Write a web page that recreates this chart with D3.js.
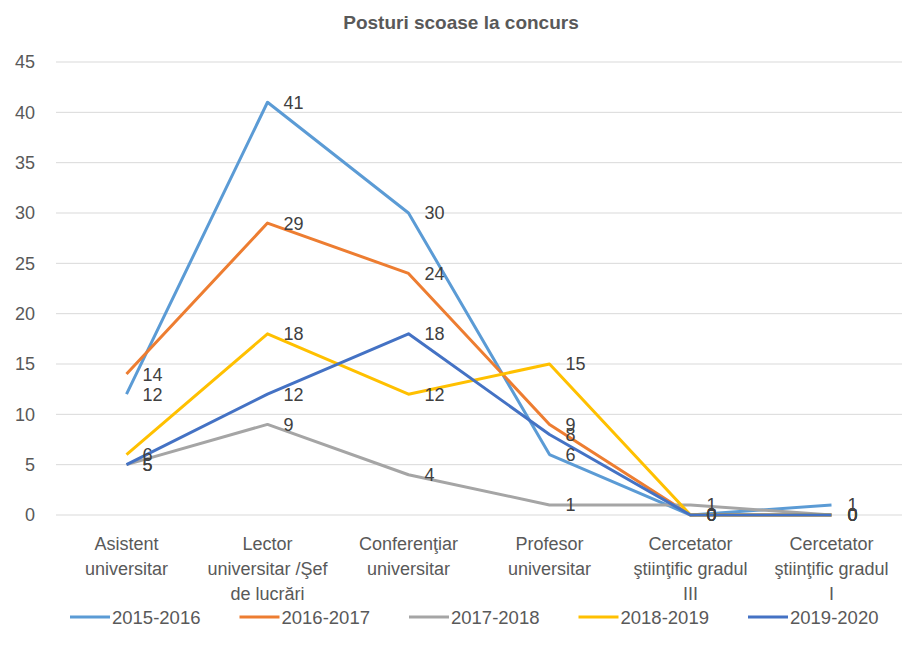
<!DOCTYPE html>
<html>
<head>
<meta charset="utf-8">
<script src="https://cdn.jsdelivr.net/npm/d3@7"></script>
<style>
  body { margin: 0; background: #fff; }
  svg { font-family: "Liberation Sans", Arial, sans-serif; }
</style>
</head>
<body>
<div id="chart"></div>
<script>
// categories (x axis)
var categories = [
    "Asistent universitar",
    "Lector universitar /Şef de lucrări",
    "Conferenţiar universitar",
    "Profesor universitar",
    "Cercetator ştiinţific gradul III",
    "Cercetator ştiinţific gradul I"
];
// label lines as they are wrapped in the picture
var categoryLines = [
    ["Asistent", "universitar"],
    ["Lector", "universitar /Şef", "de lucrări"],
    ["Conferenţiar", "universitar"],
    ["Profesor", "universitar"],
    ["Cercetator", "ştiinţific gradul", "III"],
    ["Cercetator", "ştiinţific gradul", "I"]
];

var seriesNames = ["2015-2016", "2016-2017", "2017-2018", "2018-2019", "2019-2020"];
var values2015 = [12, 41, 30, 6, 0, 1];
var values2016 = [14, 29, 24, 9, 0, 0];
var values2017 = [5, 9, 4, 1, 1, 0];
var values2018 = [6, 18, 12, 15, 0, 0];
var values2019 = [5, 12, 18, 8, 0, 0];
var yTicks = [0, 5, 10, 15, 20, 25, 30, 35, 40, 45];

var colors = ["#5B9BD5", "#ED7D31", "#A5A5A5", "#FFC000", "#4472C4"];
var allValues = [values2015, values2016, values2017, values2018, values2019];

var width = 902, height = 652;
var margin = { top: 62, right: 0, bottom: 137, left: 56 };

var svg = d3.select("#chart").append("svg")
    .attr("width", width)
    .attr("height", height);

// title
svg.append("text")
    .attr("x", 461)
    .attr("y", 29)
    .attr("text-anchor", "middle")
    .attr("fill", "#595959")
    .attr("font-weight", "bold")
    .attr("font-size", "19px")
    .text("Posturi scoase la concurs");

var x = d3.scaleBand()
    .domain(categories)
    .range([margin.left, width - margin.right]);

var y = d3.scaleLinear()
    .domain([0, 45])
    .range([height - margin.bottom, margin.top]);

// gridlines
svg.append("g")
    .selectAll("line")
    .data(yTicks)
    .enter().append("line")
    .attr("x1", margin.left)
    .attr("x2", width - margin.right)
    .attr("y1", function (d) { return y(d); })
    .attr("y2", function (d) { return y(d); })
    .attr("stroke", "#D9D9D9")
    .attr("stroke-width", 1);

// y axis labels
var yAxis = svg.append("g")
    .attr("transform", "translate(" + (margin.left - 21) + ",0)")
    .call(d3.axisLeft(y).tickValues(yTicks).tickSize(0).tickPadding(0));
yAxis.select(".domain").remove();
yAxis.selectAll("text")
    .attr("fill", "#595959")
    .attr("font-size", "18px")
    .attr("font-family", "\"Liberation Sans\", Arial, sans-serif");

// x axis (labels drawn below as wrapped lines)
var xAxis = svg.append("g")
    .attr("transform", "translate(0," + (height - margin.bottom) + ")")
    .call(d3.axisBottom(x).tickSize(0).tickFormat(""));
xAxis.select(".domain").remove();

svg.append("g")
    .selectAll("text")
    .data(categories)
    .enter().append("text")
    .attr("text-anchor", "middle")
    .attr("fill", "#595959")
    .attr("font-size", "18px")
    .each(function (d, i) {
        var t = d3.select(this);
        categoryLines[i].forEach(function (line, k) {
            t.append("tspan")
                .attr("x", x(d) + x.bandwidth() / 2)
                .attr("y", 550 + k * 25)
                .text(line);
        });
    });

// lines
var line = d3.line()
    .x(function (d, i) { return x(categories[i]) + x.bandwidth() / 2; })
    .y(function (d) { return y(d); });

svg.append("g")
    .selectAll("path")
    .data(allValues)
    .enter().append("path")
    .attr("d", line)
    .attr("fill", "none")
    .attr("stroke", function (d, i) { return colors[i]; })
    .attr("stroke-width", 3)
    .attr("stroke-linejoin", "round");

// data labels (they overlap where values are close, as in the original)
allValues.forEach(function (vals, s) {
    svg.append("g")
        .selectAll("text")
        .data(vals)
        .enter().append("text")
        .attr("x", function (d, i) { return x(categories[i]) + x.bandwidth() / 2 + 16; })
        .attr("y", function (d) { return y(d); })
        .attr("dy", "0.36em")
        .attr("fill", "#404040")
        .attr("font-size", "18px")
        .text(function (d) { return d; });
});

// legend
var legend = svg.append("g")
    .selectAll("g")
    .data(seriesNames)
    .enter().append("g")
    .attr("transform", function (d, i) { return "translate(" + (70 + i * 169.5) + ",617)"; });

legend.append("line")
    .attr("x1", 0)
    .attr("x2", 40)
    .attr("stroke", function (d, i) { return colors[i]; })
    .attr("stroke-width", 3);

legend.append("text")
    .attr("x", 42)
    .attr("dy", "0.36em")
    .attr("fill", "#595959")
    .attr("font-size", "18.5px")
    .text(function (d) { return d; });
</script>
</body>
</html>
